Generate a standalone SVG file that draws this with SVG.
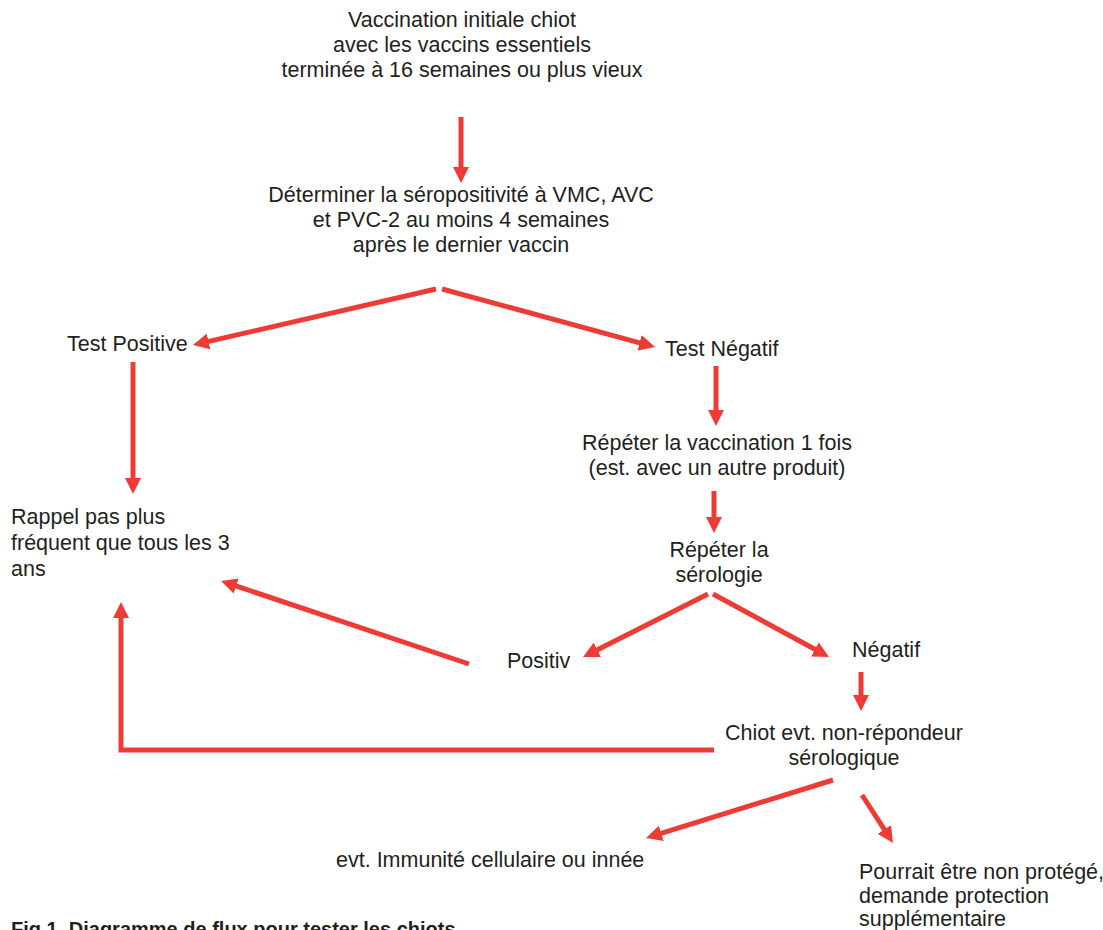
<svg xmlns="http://www.w3.org/2000/svg" width="1103" height="930" viewBox="0 0 1103 930">
<style>
text{font-family:"Liberation Sans",Arial,sans-serif;font-size:21.5px;fill:#231f20}
.c{text-anchor:middle}
.cap{font-weight:bold;font-size:20px}
.a{stroke:#ef3b36;stroke-width:5;fill:none}
</style>
<defs>
<marker id="h" viewBox="0 0 16 16" refX="2" refY="8" markerWidth="16" markerHeight="16" markerUnits="userSpaceOnUse" orient="auto">
<path d="M0,0 L16,8 L0,16 z" fill="#ef3b36"/>
</marker>
</defs>
<rect width="1103" height="930" fill="#fff"/>
<g id="connectors">
<line class="a" x1="461" y1="117" x2="461" y2="169" marker-end="url(#h)"/>
<line class="a" x1="436" y1="289" x2="206.6" y2="341.9" marker-end="url(#h)"/>
<line class="a" x1="442" y1="289" x2="641.5" y2="343.3" marker-end="url(#h)"/>
<line class="a" x1="133" y1="362" x2="133" y2="480" marker-end="url(#h)"/>
<line class="a" x1="716" y1="366" x2="716" y2="412" marker-end="url(#h)"/>
<line class="a" x1="714" y1="491" x2="714" y2="519" marker-end="url(#h)"/>
<line class="a" x1="469" y1="664" x2="234.3" y2="585.4" marker-end="url(#h)"/>
<path class="a" d="M714,750 H121 V616" marker-end="url(#h)"/>
<line class="a" x1="708" y1="594" x2="595.5" y2="650.7" marker-end="url(#h)"/>
<line class="a" x1="713" y1="594" x2="816.7" y2="650.3" marker-end="url(#h)"/>
<line class="a" x1="861" y1="672" x2="861" y2="697" marker-end="url(#h)"/>
<line class="a" x1="833" y1="780" x2="659.4" y2="833.9" marker-end="url(#h)"/>
<line class="a" x1="862" y1="795" x2="885.4" y2="831.2" marker-end="url(#h)"/>
</g>
<g id="start">
<text class="c" x="462" y="27">Vaccination initiale chiot</text>
<text class="c" x="462" y="52">avec les vaccins essentiels</text>
<text class="c" x="462" y="77">terminée à 16 semaines ou plus vieux</text>
</g>
<g id="determine">
<text class="c" x="461" y="202">Déterminer la séropositivité à VMC, AVC</text>
<text class="c" x="461" y="227">et PVC-2 au moins 4 semaines</text>
<text class="c" x="461" y="252">après le dernier vaccin</text>
</g>
<g id="test-positive"><text x="67" y="351">Test Positive</text></g>
<g id="test-negatif"><text x="665" y="356">Test Négatif</text></g>
<g id="repeat-vacc">
<text class="c" x="717" y="450">Répéter la vaccination 1 fois</text>
<text class="c" x="717" y="475">(est. avec un autre produit)</text>
</g>
<g id="repeat-sero">
<text class="c" x="719" y="557">Répéter la</text>
<text class="c" x="719" y="582">sérologie</text>
</g>
<g id="rappel">
<text x="11" y="524">Rappel pas plus</text>
<text x="11" y="550">fréquent que tous les 3</text>
<text x="11" y="576">ans</text>
</g>
<g id="positiv"><text x="507" y="668">Positiv</text></g>
<g id="negatif"><text x="852" y="657">Négatif</text></g>
<g id="non-repondeur">
<text class="c" x="844" y="740">Chiot evt. non-répondeur</text>
<text class="c" x="844" y="765">sérologique</text>
</g>
<g id="immunite"><text x="336" y="867">evt. Immunité cellulaire ou innée</text></g>
<g id="non-protege">
<text x="859" y="879">Pourrait être non protégé,</text>
<text x="859" y="903">demande protection</text>
<text x="859" y="926">supplémentaire</text>
</g>
<g id="caption"><text class="cap" x="11" y="936">Fig 1. Diagramme de flux pour tester les chiots</text></g>
</svg>
